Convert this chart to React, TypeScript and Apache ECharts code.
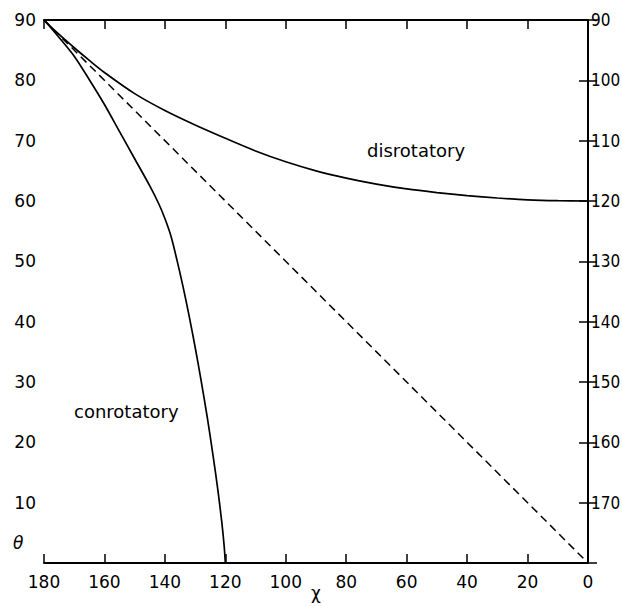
import React, { useEffect, useRef } from "react";
import * as echarts from "echarts";

const xTicks = [180, 160, 140, 120, 100, 80, 60, 40, 20, 0];
const conrotatory: [number, number][] = [
  [180, 90], [175, 87.1], [170, 84], [165, 80.1], [160, 76], [155, 71.5],
  [150, 67], [145, 62.5], [142, 59.5], [140, 57.1], [138, 54.2], [136, 50.2],
  [134, 45.8], [132, 41.0], [130, 35.8], [128, 30.2], [126, 24.2], [124, 17.6],
  [122.5, 12.2], [121.2, 6.9], [120.4, 2.9], [120, 0],
];
const disrotatory: [number, number][] = [
  [180, 90], [175, 87.6], [170, 85.4], [165, 83.3], [160, 81.3], [150, 77.8],
  [140, 75.0], [130, 72.6], [120, 70.4], [110, 68.3], [100, 66.5], [90, 65.0],
  [80, 63.8], [70, 62.8], [60, 62.0], [50, 61.4], [40, 60.9], [30, 60.5],
  [20, 60.2], [10, 60.05], [0, 60],
];
const diagonal: [number, number][] = [[180, 90], [0, 0]];

const FONT = "DejaVu Sans";

export default function App() {
  const ref = useRef<HTMLDivElement>(null);
  useEffect(() => {
    document.body.style.margin = "0";
    const chart = echarts.init(ref.current!, undefined, { renderer: "svg" });
    const axisLine = { show: true, lineStyle: { color: "#000", width: 2 } };
    const axisTick = { show: true, inside: true, length: 9, lineStyle: { color: "#000", width: 1.5 } };
    const label = { color: "#000", fontSize: 17, fontFamily: FONT };
    chart.setOption({
      animation: false,
      backgroundColor: "#fff",
      grid: { left: 44, right: 34, top: 20, bottom: 43, containLabel: false, outerBoundsMode: "none" },
      xAxis: [
        {
          type: "value", inverse: true, min: 0, max: 180, interval: 20, position: "bottom",
          axisLine, axisTick, splitLine: { show: false },
          axisLabel: { ...label, margin: 10 },
        },
        {
          type: "value", inverse: true, min: 0, max: 180, interval: 20, position: "top",
          axisLine, axisTick, splitLine: { show: false }, axisLabel: { show: false },
        },
      ],
      yAxis: [
        {
          type: "value", min: 0, max: 90, interval: 10, position: "left",
          axisLine, axisTick, splitLine: { show: false },
          axisLabel: { ...label, margin: 8, formatter: (v: number) => (v === 0 ? "" : String(v)) },
        },
        {
          type: "value", min: 90, max: 180, interval: 10, inverse: true, position: "right",
          axisLine, axisTick, splitLine: { show: false },
          axisLabel: {
            ...label, fontFamily: "'DejaVu Sans Condensed', 'Liberation Sans', sans-serif", margin: 3,
            formatter: (v: number) => (v === 180 ? "" : String(v)),
          },
        },
      ],
      graphic: [
        { type: "text", left: 13, top: 534, style: { text: "θ", fontSize: 17, fontStyle: "italic", fontFamily: FONT, fill: "#000" } },
        { type: "text", left: 311, top: 584, style: { text: "χ", fontSize: 17, fontFamily: FONT, fill: "#000" } },
        { type: "text", left: 74, top: 402, style: { text: "conrotatory", fontSize: 18, fontFamily: FONT, fill: "#000" } },
        { type: "text", left: 367, top: 141, style: { text: "disrotatory", fontSize: 18, fontFamily: FONT, fill: "#000" } },
      ],
      series: [
        { type: "line", data: diagonal, symbol: "none", lineStyle: { color: "#000", width: 1.5, type: [8, 5] } },
        { type: "line", data: conrotatory, symbol: "none", smooth: 0.3, lineStyle: { color: "#000", width: 1.7 } },
        { type: "line", data: disrotatory, symbol: "none", smooth: 0.3, lineStyle: { color: "#000", width: 1.7 } },
      ],
    });
    return () => chart.dispose();
  }, []);
  return <div ref={ref} style={{ width: 622, height: 606 }} />;
}
